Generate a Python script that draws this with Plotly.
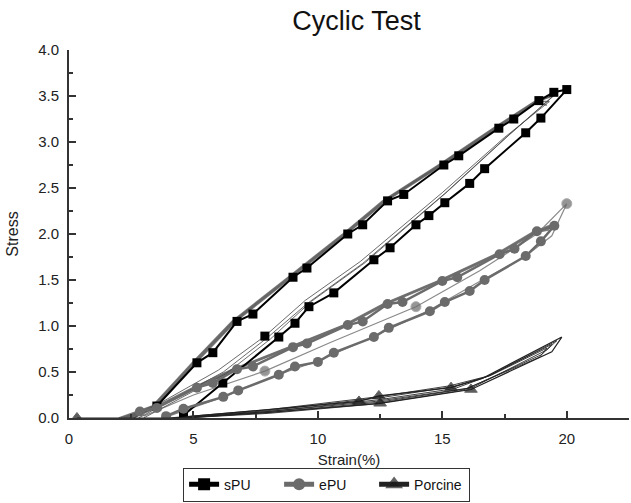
import plotly.graph_objects as go

# ---------------- data ----------------
# sPU main cycle (with markers): loading then unloading
spu_x = [3.53, 5.14, 5.78, 6.75, 7.39, 9.0, 9.56, 11.2, 11.8, 12.8, 13.45, 15.06, 15.66, 17.27, 17.87, 18.88, 19.48, 20.0,
         18.96, 18.35, 16.7, 16.1, 15.1, 14.46, 13.94, 12.9, 12.25, 10.64, 9.64, 9.08, 8.43, 6.18, 4.6]
spu_y = [0.13, 0.60, 0.71, 1.05, 1.13, 1.53, 1.63, 2.0, 2.10, 2.36, 2.43, 2.75, 2.85, 3.15, 3.25, 3.45, 3.54, 3.57,
         3.26, 3.10, 2.71, 2.55, 2.34, 2.20, 2.10, 1.85, 1.72, 1.36, 1.21, 1.03, 0.88, 0.38, 0.03]
# sPU other cycles (thin lines): loading branches
spu_load_x = [
    [2.4, 3.45, 5.05, 6.65, 8.9, 11.1, 12.7, 14.95, 17.15, 18.8, 19.3],
    [2.2, 3.4, 5.0, 6.6, 8.85, 11.05, 12.65, 14.9, 17.1, 18.75, 19.45],
    [2.6, 3.5, 5.1, 6.7, 8.95, 11.15, 12.75, 15.0, 17.2, 18.85, 19.55],
    [2.0, 3.35, 4.95, 6.55, 8.8, 11.0, 12.6, 14.85, 17.05, 18.7, 19.2],
]
spu_load_y = [
    [0.0, 0.13, 0.60, 1.05, 1.53, 2.0, 2.36, 2.75, 3.15, 3.44, 3.44],
    [0.0, 0.13, 0.60, 1.05, 1.53, 2.0, 2.36, 2.75, 3.15, 3.44, 3.50],
    [0.0, 0.13, 0.60, 1.05, 1.53, 2.0, 2.36, 2.75, 3.15, 3.44, 3.52],
    [0.0, 0.13, 0.60, 1.05, 1.53, 2.0, 2.36, 2.75, 3.15, 3.44, 3.40],
]
# sPU thin unloading lines
spu_unl_x = [
    [19.3, 17.5, 15.0, 11.7, 9.5, 7.87, 6.0, 3.5, 2.6],
    [19.45, 17.6, 15.1, 11.8, 9.6, 8.0, 6.2, 3.7, 2.8],
    [19.55, 17.7, 15.2, 11.9, 9.7, 8.1, 6.3, 3.8, 3.0],
]
spu_unl_y = [
    [3.44, 3.05, 2.45, 1.70, 1.28, 0.89, 0.52, 0.14, 0.0],
    [3.50, 3.06, 2.44, 1.68, 1.25, 0.88, 0.50, 0.13, 0.0],
    [3.52, 3.08, 2.46, 1.69, 1.26, 0.86, 0.48, 0.12, 0.0],
]
spu_extra_x = [7.87]
spu_extra_y = [0.89]

# ePU main cycle (with markers)
epu_x = [2.85, 3.53, 5.14, 5.78, 6.75, 7.39, 9.0, 9.56, 11.2, 11.8, 12.8, 13.4, 15.0, 15.6, 17.3, 17.9, 18.8, 19.5,
         18.96, 18.35, 16.7, 16.1, 15.1, 14.5, 12.85, 12.25, 10.64, 10.0, 9.08, 8.43, 6.8, 6.2, 4.6, 3.9]
epu_y = [0.07, 0.11, 0.33, 0.38, 0.53, 0.56, 0.77, 0.81, 1.01, 1.05, 1.24, 1.26, 1.49, 1.53, 1.78, 1.84, 2.03, 2.09,
         1.92, 1.76, 1.50, 1.38, 1.26, 1.16, 0.98, 0.88, 0.71, 0.61, 0.56, 0.47, 0.30, 0.23, 0.10, 0.02]
# ePU other cycles: loading bands
epu_load_x = [
    [2.3, 3.45, 5.05, 6.65, 8.9, 11.1, 12.7, 14.9, 17.2, 18.7, 19.4],
    [2.1, 3.4, 5.0, 6.6, 8.85, 11.05, 12.65, 14.85, 17.15, 18.65, 19.6],
    [2.5, 3.5, 5.1, 6.7, 8.95, 11.15, 12.75, 14.95, 17.25, 18.75, 19.3],
]
epu_load_y = [
    [0.0, 0.11, 0.33, 0.53, 0.77, 1.01, 1.24, 1.49, 1.78, 2.02, 2.08],
    [0.0, 0.11, 0.33, 0.53, 0.77, 1.01, 1.24, 1.49, 1.78, 2.02, 2.12],
    [0.0, 0.11, 0.33, 0.53, 0.77, 1.01, 1.24, 1.49, 1.78, 2.02, 2.05],
]
# ePU thin middle cycle reaching the highest point
epu_mid_x = [3.0, 5.0, 7.87, 10.5, 13.94, 16.5, 18.8, 20.0, 19.4, 18.3, 16.6, 14.4, 12.2, 10.0, 8.4, 6.2, 4.0]
epu_mid_y = [0.02, 0.25, 0.51, 0.82, 1.21, 1.60, 2.00, 2.33, 1.98, 1.75, 1.50, 1.16, 0.88, 0.62, 0.47, 0.23, 0.02]
epu_mid_marker = [False, False, True, False, True, False, False, True, False, False, False, False, False, False,
                  False, False, False]

# Porcine main cycle (with markers)
por_x = [0.32, 4.4, 5.0, 8.0, 11.65, 12.45, 15.35, 16.6, 19.8, 19.4, 16.15, 12.5, 8.0, 4.6]
por_y = [0.0, 0.0, 0.02, 0.09, 0.18, 0.24, 0.33, 0.43, 0.88, 0.72, 0.31, 0.16, 0.06, 0.0]
por_marker_on = [True, False, False, False, True, True, True, False, False, False, True, True, False, False]
# Porcine other cycles (thin lines)
por_thin_x = [
    [4.2, 8.0, 12.5, 15.4, 16.8, 19.4, 19.0, 16.0, 12.4, 8.0, 4.5],
    [4.0, 8.0, 12.4, 15.3, 16.9, 19.6, 19.2, 16.2, 12.3, 8.0, 4.4],
    [4.3, 8.0, 12.5, 15.5, 17.0, 19.2, 18.9, 15.8, 12.2, 8.0, 4.6],
]
por_thin_y = [
    [0.0, 0.08, 0.22, 0.34, 0.45, 0.80, 0.69, 0.32, 0.17, 0.06, 0.0],
    [0.0, 0.09, 0.23, 0.35, 0.46, 0.84, 0.74, 0.33, 0.18, 0.07, 0.0],
    [0.0, 0.07, 0.20, 0.32, 0.47, 0.76, 0.66, 0.30, 0.15, 0.05, 0.0],
]

title_text = "Cyclic Test"
x_title = "Strain(%)"
y_title = "Stress"
names = ["sPU", "ePU", "Porcine"]

# ---------------- figure ----------------
fig = go.Figure()
FONT = "Arial, Liberation Sans, sans-serif"


def thin(xs, ys, color, width):
    fig.add_trace(go.Scatter(x=xs, y=ys, mode="lines", line=dict(color=color, width=width),
                             showlegend=False, hoverinfo="skip"))


for xs, ys in zip(por_thin_x, por_thin_y):
    thin(xs, ys, "rgba(30,30,30,0.85)", 1)
for xs, ys in zip(epu_load_x, epu_load_y):
    thin(xs, ys, "rgba(110,110,110,0.9)", 2)
fig.add_trace(go.Scatter(x=epu_mid_x, y=epu_mid_y, mode="lines+markers",
                         line=dict(color="#8a8a8a", width=1.2),
                         marker=dict(symbol="circle", size=[10 if m else 0 for m in epu_mid_marker],
                                     color="#6b6b6b"),
                         showlegend=False, hoverinfo="skip"))
for xs, ys in zip(spu_load_x, spu_load_y):
    thin(xs, ys, "rgba(90,90,90,0.8)", 1.5)
for xs, ys in zip(spu_unl_x, spu_unl_y):
    thin(xs, ys, "rgba(70,70,70,0.8)", 1)
fig.add_trace(go.Scatter(x=spu_extra_x, y=spu_extra_y, mode="markers",
                         marker=dict(symbol="square", size=9, color="#000000"),
                         showlegend=False, hoverinfo="skip"))

fig.add_trace(go.Scatter(x=spu_x, y=spu_y, mode="lines+markers", name=names[0],
                         line=dict(color="#000000", width=2),
                         marker=dict(symbol="square", size=9, color="#000000")))
fig.add_trace(go.Scatter(x=epu_x, y=epu_y, mode="lines+markers", name=names[1],
                         line=dict(color="#6b6b6b", width=2.5),
                         marker=dict(symbol="circle", size=10, color="#6b6b6b")))
fig.add_trace(go.Scatter(x=por_x, y=por_y, mode="lines+markers", name=names[2],
                         line=dict(color="#222222", width=1.2),
                         marker=dict(symbol="triangle-up", size=[11 if m else 0 for m in por_marker_on],
                                     color="#1a1a1a")))

axis_common = dict(showline=True, linewidth=2, linecolor="#333333", mirror=False,
                   showgrid=False, zeroline=False, ticks="inside", ticklen=7, tickwidth=1.5,
                   tickcolor="#333333",
                   tickfont=dict(family=FONT, size=15, color="#222222"))

fig.update_xaxes(range=[0, 22.5], tickvals=[0, 5, 10, 15, 20], ticklabelstandoff=6,
                 minor=dict(tickvals=[2.5, 7.5, 12.5, 17.5, 22.5], ticks="inside", ticklen=4, tickwidth=1.5,
                            tickcolor="#333333"),
                 title=dict(text=x_title, font=dict(family=FONT, size=15, color="#222222"), standoff=8),
                 **axis_common)
fig.update_yaxes(range=[0, 4.0], tickvals=[0, 0.5, 1.0, 1.5, 2.0, 2.5, 3.0, 3.5, 4.0],
                 ticktext=["0.0", "0.5", "1.0", "1.5", "2.0", "2.5", "3.0", "3.5", "4.0"], ticklabelstandoff=5,
                 minor=dict(tickvals=[0.25, 0.75, 1.25, 1.75, 2.25, 2.75, 3.25, 3.75], ticks="inside",
                            ticklen=4, tickwidth=1.5, tickcolor="#333333"),
                 title=dict(text=y_title, font=dict(family=FONT, size=16, color="#222222"), standoff=16),
                 **axis_common)

fig.update_layout(
    width=631, height=503,
    margin=dict(l=69, r=2, t=50, b=85, autoexpand=False),
    paper_bgcolor="white", plot_bgcolor="white",
    title=dict(text=title_text, x=0.565, xanchor="center", y=0.96, yanchor="middle",
               font=dict(family=FONT, size=27, color="#111111")),
    legend=dict(orientation="h", x=0.46, xanchor="center", y=-0.227, yanchor="bottom",
                bordercolor="#333333", borderwidth=1, bgcolor="white",
                font=dict(family=FONT, size=14, color="#111111"),
                entrywidth=50, entrywidthmode="pixels",
                itemwidth=30, tracegroupgap=0, itemsizing="constant"),
    showlegend=True,
)

fig.write_html("out.html")
